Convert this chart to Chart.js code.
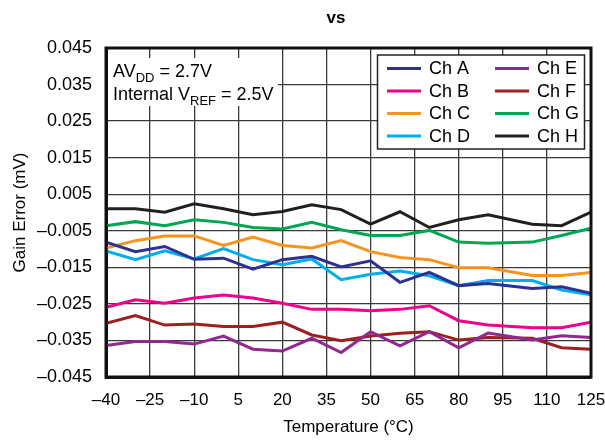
<!DOCTYPE html>
<html>
<head>
<meta charset="utf-8">
<script src="https://cdn.jsdelivr.net/npm/chart.js@4"></script>
<style>
  body { margin: 0; background: #fff; }
  canvas { display: block; }
</style>
</head>
<body>
<canvas id="chart" width="605" height="440"></canvas>
<script>
const temps = [-40, -30, -20, -10, 0, 10, 20, 30, 40, 50, 60, 70, 80, 90, 105, 115, 125];
const xTicks = [-40, -25, -10, 5, 20, 35, 50, 65, 80, 95, 110, 125];
const yTicks = [-0.045, -0.035, -0.025, -0.015, -0.005, 0.005, 0.015, 0.025, 0.035, 0.045];

const chA = [-0.0081, -0.0107, -0.0093, -0.0128, -0.0125, -0.0155, -0.0129, -0.0120, -0.0149, -0.0132, -0.0191, -0.0164, -0.0200, -0.0194, -0.0208, -0.0203, -0.0221];
const chB = [-0.0259, -0.0239, -0.0248, -0.0234, -0.0226, -0.0234, -0.0248, -0.0265, -0.0265, -0.0269, -0.0265, -0.0255, -0.0296, -0.0308, -0.0315, -0.0315, -0.0300];
const chC = [-0.0097, -0.0077, -0.0064, -0.0064, -0.0090, -0.0067, -0.0090, -0.0097, -0.0077, -0.0107, -0.0123, -0.0129, -0.0151, -0.0151, -0.0172, -0.0172, -0.0164];
const chD = [-0.0105, -0.0129, -0.0105, -0.0127, -0.0099, -0.0129, -0.0143, -0.0127, -0.0184, -0.0169, -0.0160, -0.0173, -0.0200, -0.0186, -0.0186, -0.0212, -0.0225];
const chE = [-0.0364, -0.0353, -0.0353, -0.0360, -0.0338, -0.0374, -0.0379, -0.0344, -0.0383, -0.0326, -0.0365, -0.0326, -0.0370, -0.0330, -0.0349, -0.0337, -0.0342];
const chF = [-0.0303, -0.0282, -0.0308, -0.0305, -0.0312, -0.0312, -0.0300, -0.0335, -0.0351, -0.0338, -0.0330, -0.0326, -0.0349, -0.0342, -0.0344, -0.0370, -0.0374];
const chG = [-0.0036, -0.0025, -0.0036, -0.0020, -0.0027, -0.0041, -0.0045, -0.0027, -0.0047, -0.0063, -0.0063, -0.0049, -0.0081, -0.0084, -0.0081, -0.0063, -0.0043];
const chH = [0.0010, 0.0010, 0.0001, 0.0024, 0.0010, -0.0006, 0.0003, 0.0021, 0.0008, -0.0032, 0.0002, -0.0041, -0.0020, -0.0006, -0.0032, -0.0036, 0.0001];

const seriesNames = ['Ch A', 'Ch B', 'Ch C', 'Ch D', 'Ch E', 'Ch F', 'Ch G', 'Ch H'];
const seriesValues = [chA, chB, chC, chD, chE, chF, chG, chH];
const seriesColors = ['#2E3192', '#EC008C', '#F7941D', '#00AEEF', '#92278F', '#9E1F20', '#00A651', '#231F20'];

const FONT = "'Liberation Sans', Arial, sans-serif";
const dash = '\u2013';

function fmt(v, digits) {
    const s = Math.abs(v).toFixed(digits);
    return v < 0 ? dash + s : s;
}

// title, note box, legend box and plot frame
const decorPlugin = {
    id: 'decor',
    beforeDatasetsDraw(chart) {
        const ctx = chart.ctx;
        ctx.save();
        ctx.fillStyle = '#fff';
        ctx.fillRect(108, 58, 170, 48);
        ctx.fillStyle = '#000';
        ctx.textBaseline = 'alphabetic';
        ctx.textAlign = 'left';

        let x = 113;
        ctx.font = '18px ' + FONT;
        ctx.fillText('AV', x, 77);
        x += ctx.measureText('AV').width;
        ctx.font = '13px ' + FONT;
        ctx.fillText('DD', x, 82);
        x += ctx.measureText('DD').width;
        ctx.font = '18px ' + FONT;
        ctx.fillText(' = 2.7V', x, 77);

        x = 113;
        ctx.fillText('Internal V', x, 100);
        x += ctx.measureText('Internal V').width;
        ctx.font = '13px ' + FONT;
        ctx.fillText('REF', x, 105);
        x += ctx.measureText('REF').width;
        ctx.font = '18px ' + FONT;
        ctx.fillText(' = 2.5V', x, 100);
        ctx.restore();
    },
    afterDraw(chart) {
        const ctx = chart.ctx;
        const area = chart.chartArea;
        ctx.save();

        ctx.font = 'bold 17px ' + FONT;
        ctx.fillStyle = '#000';
        ctx.textAlign = 'center';
        ctx.textBaseline = 'middle';
        ctx.fillText('vs', 336, 18);

        // legend
        ctx.fillStyle = '#fff';
        ctx.fillRect(377.5, 55, 207, 94);
        ctx.strokeStyle = '#222';
        ctx.lineWidth = 1.5;
        ctx.strokeRect(377.5, 55, 207, 94);
        ctx.font = '18px ' + FONT;
        ctx.textAlign = 'left';
        chart.data.datasets.forEach((ds, i) => {
            const col = Math.floor(i / 4);
            const row = i % 4;
            const lx = 387 + col * 108;
            const ly = 68.5 + row * 22.5;
            ctx.strokeStyle = ds.borderColor;
            ctx.lineWidth = 3;
            ctx.beginPath();
            ctx.moveTo(lx, ly);
            ctx.lineTo(lx + 34, ly);
            ctx.stroke();
            ctx.fillStyle = '#000';
            ctx.fillText(ds.label, lx + 42, ly + 1);
        });

        ctx.strokeStyle = '#111';
        ctx.lineWidth = 3;
        ctx.strokeRect(area.left, area.top, area.right - area.left, area.bottom - area.top);
        ctx.restore();
    }
};

new Chart(document.getElementById('chart'), {
    type: 'line',
    data: {
        datasets: seriesNames.map((name, i) => ({
            label: name,
            data: temps.map((t, j) => ({ x: t, y: seriesValues[i][j] })),
            borderColor: seriesColors[i],
            backgroundColor: seriesColors[i],
            borderWidth: 3,
            pointRadius: 0,
            tension: 0,
            fill: false
        }))
    },
    options: {
        responsive: false,
        animation: false,
        layout: { padding: { left: 0, right: 0, top: 48, bottom: 0 } },
        plugins: {
            legend: { display: false },
            tooltip: { enabled: false }
        },
        scales: {
            x: {
                type: 'linear',
                min: -40,
                max: 125,
                afterBuildTicks: s => { s.ticks = xTicks.map(v => ({ value: v })); },
                afterFit: s => {
                    s.height = 63;
                    s.paddingLeft = 0;
                    s.paddingRight = 14;
                },
                grid: { color: '#3a3a3a', lineWidth: 1.3, drawTicks: false },
                border: { color: '#111', width: 3 },
                ticks: {
                    color: '#000',
                    font: { family: FONT, size: 17 },
                    padding: 13,
                    maxRotation: 0,
                    autoSkip: false,
                    callback: v => fmt(v, 0)
                },
                title: {
                    display: true,
                    text: 'Temperature (°C)',
                    color: '#000',
                    font: { family: FONT, size: 17 },
                    padding: 2
                }
            },
            y: {
                min: -0.045,
                max: 0.045,
                afterBuildTicks: s => { s.ticks = yTicks.map(v => ({ value: v })); },
                afterFit: s => { s.width = 106; },
                grid: { color: '#3a3a3a', lineWidth: 1.3, drawTicks: false },
                border: { color: '#111', width: 3 },
                ticks: {
                    color: '#000',
                    font: { family: FONT, size: 18 },
                    padding: 14,
                    autoSkip: false,
                    callback: v => fmt(v, 3)
                },
                title: {
                    display: true,
                    text: 'Gain Error (mV)',
                    color: '#000',
                    font: { family: FONT, size: 17 },
                    padding: 10
                }
            }
        }
    },
    plugins: [decorPlugin]
});
</script>
</body>
</html>
